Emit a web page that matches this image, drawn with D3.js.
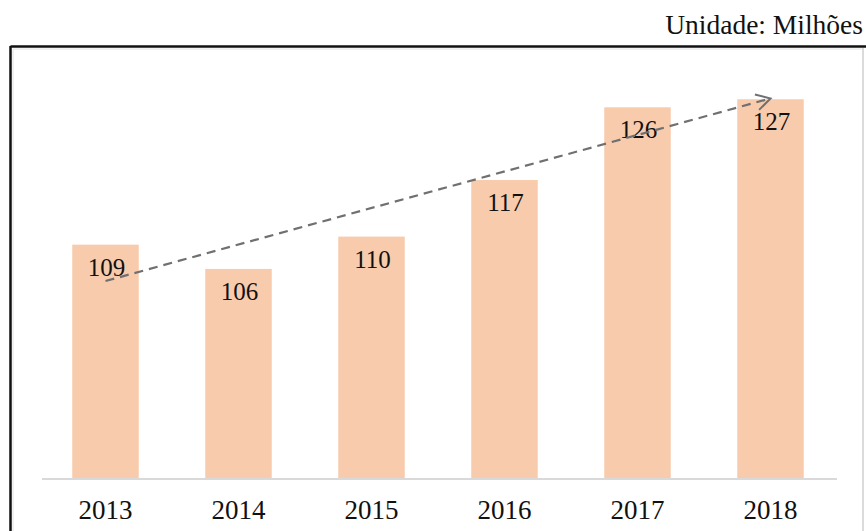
<!DOCTYPE html>
<html>
<head>
<meta charset="utf-8">
<script src="https://cdn.jsdelivr.net/npm/d3@7"></script>
<style>
  html, body { margin: 0; padding: 0; background: #ffffff; }
  svg { display: block; }
  svg text { font-family: "Liberation Serif", "DejaVu Serif", serif; }
</style>
</head>
<body>
<svg id="chart" width="866" height="531"></svg>
<script>
const years = ["2013", "2014", "2015", "2016", "2017", "2018"];
const values = [109, 106, 110, 117, 126, 127];
const trendYears = ["2013", "2018"];
const trendValues = [104.5, 127.1];
const unitLabel = "Unidade: Milhões";

const svg = d3.select("#chart");
const W = 866, H = 531;

// frame
svg.append("line").attr("x1", 10.5).attr("x2", 866).attr("y1", 46.5).attr("y2", 46.5)
  .attr("stroke", "#111").attr("stroke-width", 2.5);
svg.append("line").attr("x1", 10.5).attr("x2", 10.5).attr("y1", 46).attr("y2", H)
  .attr("stroke", "#111").attr("stroke-width", 2.5);
svg.append("line").attr("x1", 863).attr("x2", 863).attr("y1", 48).attr("y2", H)
  .attr("stroke", "#cfcfcf").attr("stroke-width", 1.5);
svg.append("line").attr("x1", 13).attr("x2", 862).attr("y1", 49).attr("y2", 49)
  .attr("stroke", "#e2e2e2").attr("stroke-width", 1);
svg.append("line").attr("x1", 13).attr("x2", 13).attr("y1", 49).attr("y2", H)
  .attr("stroke", "#e2e2e2").attr("stroke-width", 1);

// unit label
svg.append("text").attr("x", 863).attr("y", 34)
  .attr("text-anchor", "end")
  .attr("font-size", 27.5)
  .attr("fill", "#111")
  .text(unitLabel);

const x = d3.scaleBand().domain(years).range([39, 837]).paddingInner(0.5).paddingOuter(0.25);
const y = d3.scaleLinear().domain([80, 130]).range([479, 75]);

// bars
svg.append("g").selectAll("rect").data(years).join("rect")
  .attr("x", d => x(d))
  .attr("width", x.bandwidth())
  .attr("y", (d, i) => y(values[i]))
  .attr("height", (d, i) => y(80) - y(values[i]))
  .attr("fill", "#F8CBAD");

// baseline axis
const axis = svg.append("g").attr("transform", `translate(0,${y(80)})`)
  .call(d3.axisBottom(x).tickSize(0).tickPadding(21));
axis.select(".domain").attr("d", `M${x.range()[0] + 3},0H${x.range()[1]}`)
  .attr("stroke", "#d9d9d9").attr("stroke-width", 2);
axis.selectAll("text")
  .style("font-family", "'Liberation Serif', 'DejaVu Serif', serif")
  .attr("font-size", 27)
  .attr("fill", "#111");

// value labels
svg.append("g").selectAll("text").data(years).join("text")
  .attr("x", d => x(d) + x.bandwidth() / 2 + 1)
  .attr("y", (d, i) => y(values[i]) + 31)
  .attr("text-anchor", "middle")
  .attr("font-size", 25)
  .attr("fill", "#111")
  .text((d, i) => values[i]);

// trend arrow
const defs = svg.append("defs");
defs.append("marker").attr("id", "arrow")
  .attr("viewBox", "0 0 20 20").attr("refX", 17).attr("refY", 10)
  .attr("markerWidth", 20).attr("markerHeight", 20)
  .attr("markerUnits", "userSpaceOnUse")
  .attr("orient", "auto")
  .append("path").attr("d", "M3,2 L17,10 L3,18")
  .attr("fill", "none").attr("stroke", "#707070").attr("stroke-width", 2);

const trendPts = trendYears.map((d, i) => [x(d) + x.bandwidth() / 2, y(trendValues[i])]);
svg.append("path")
  .attr("d", d3.line()(trendPts))
  .attr("fill", "none")
  .attr("stroke", "#707070")
  .attr("stroke-width", 2.2)
  .attr("stroke-dasharray", "9,6")
  .attr("marker-end", "url(#arrow)");
</script>
</body>
</html>
